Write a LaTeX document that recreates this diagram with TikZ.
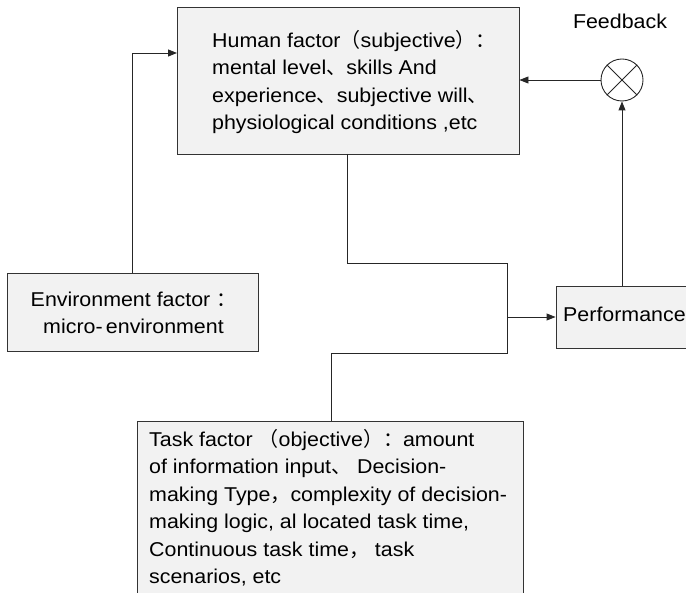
\documentclass[tikz,border=0pt]{standalone}
\usepackage{fontspec}
\setmainfont{Liberation Sans}[FakeStretch=1.07]
\newfontfamily\cjk{Noto Sans CJK SC}
\usetikzlibrary{arrows.meta,calc}
\newcommand{\cj}[1]{{\cjk #1}}
\tikzset{
  box/.style={draw=black!80, line width=0.9pt, fill=black!5, inner sep=0pt},
  conn/.style={draw=black!85, line width=0.9pt},
  arr/.style={conn, -{Triangle[length=9pt,width=7pt]}},
  txt/.style={font=\fontsize{20}{27.5}\selectfont, align=left, inner sep=0pt}
}
\begin{document}
\begin{tikzpicture}[x=1pt,y=-1pt]
\useasboundingbox (0,0) rectangle (686,593);
\clip (0,0) rectangle (686,593);
% boxes
\node[box, minimum width=342pt, minimum height=147pt] (human) at (348,80.5) {};
\node[txt, anchor=west] (humantxt) at (212,82) {Human factor\cj{（}subjective\cj{）：}\\mental level\cj{、}skills And\\experience\cj{、}subjective will\cj{、}\\physiological conditions ,etc};
\node[box, minimum width=251pt, minimum height=78pt] (env) at (132.5,312) {};
\node[txt, align=center] (envtxt) at (133.5,313) {Environment factor \cj{：}\\micro-\,environment};
\node[box, minimum width=134pt, minimum height=62pt] (perf) at (623,317) {};
\node[txt, anchor=west] (perftxt) at (563,314) {Performance};
\node[box, minimum width=386pt, minimum height=190pt] (task) at (330,516) {};
\node[txt, anchor=north west] (tasktxt) at (149,429) {Task factor \cj{（}objective\cj{）}\cj{：}amount\\of information input\cj{、} Decision-\\making Type\cj{，}complexity of decision-\\making logic, al located task time,\\Continuous task time\cj{，} task\\scenarios, etc};
% feedback junction
\node[draw=black!85, line width=0.9pt, circle, minimum size=42pt, inner sep=0pt] (fb) at (622,80) {};
\draw[conn] (fb.north west) -- (fb.south east) (fb.north east) -- (fb.south west);
\node[font=\fontsize{20}{22}\selectfont, inner sep=0pt] (fblabel) at (620,21) {Feedback};
% connectors
\coordinate (hin) at (177,53);
\draw[arr] (env.north) |- (hin);
\draw[arr] (fb.west) -- (fb.west -| human.east);
\draw[arr] (fb.south |- perf.north) -- (fb.south);
\coordinate (hout) at (347,154);
\coordinate (j1) at (347,263);
\coordinate (j2) at (507,263);
\coordinate (j3) at (507,353);
\coordinate (j4) at (331,353);
\coordinate (tin) at (331,421);
\coordinate (jm) at (507,317);
\draw[conn] (hout) -- (j1) -- (j2) -- (j3) -- (j4) -- (tin);
\draw[arr] (jm) -- (perf.west);
\end{tikzpicture}
\end{document}
